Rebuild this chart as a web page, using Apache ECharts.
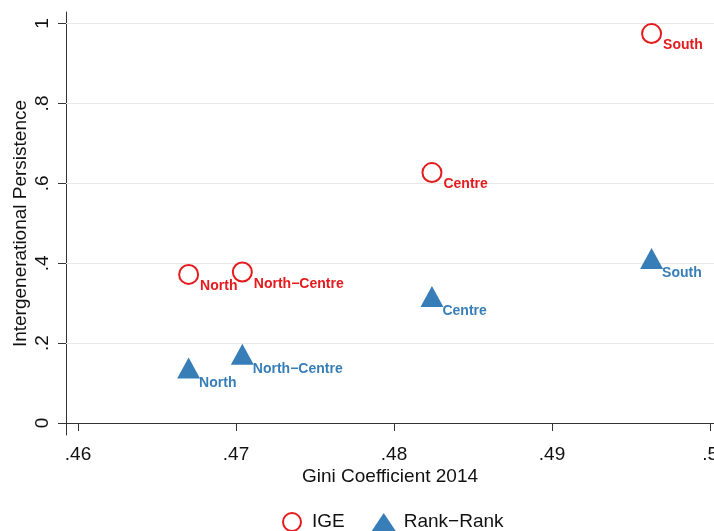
<!DOCTYPE html>
<html>
<head>
<meta charset="utf-8">
<script src="https://cdn.jsdelivr.net/npm/echarts@6/dist/echarts.min.js"></script>
<style>
  html, body { margin: 0; padding: 0; background: #fff; }
  #chart { width: 714px; height: 531px; }
</style>
</head>
<body>
<div id="chart"></div>
<script>
// data
const regions = ['North', 'North\u2212Centre', 'Centre', 'South'];
const gini = [0.4670, 0.4704, 0.4824, 0.4963];
const ige = [0.372, 0.378, 0.627, 0.975];
const rankRank = [0.138, 0.172, 0.317, 0.412];
const xTicks = [0.46, 0.47, 0.48, 0.49, 0.5];
const yTicks = [0, 0.2, 0.4, 0.6, 0.8, 1];
const gridValues = [0.2, 0.4, 0.6, 0.8, 1];

const RED = '#e41a1c';
const BLUE = '#377eb8';
const FONT = '"Liberation Sans", Arial, sans-serif';

// stata style: drop the leading zero
const fmt = v => String(v).replace(/^0\./, '.');

const toPoints = ys => ys.map((y, i) => [gini[i], y, regions[i]]);

const chart = echarts.init(document.getElementById('chart'));

const option = {
    animation: false,
    backgroundColor: '#fff',
    textStyle: { fontFamily: FONT },
    grid: {
        left: 66,
        right: 0,
        top: 12,
        bottom: 96,
        outerBoundsMode: 'none',
        containLabel: false
    },
    legend: {
        left: 277,
        top: 507,
        itemGap: 27,
        itemWidth: 24,
        itemHeight: 18,
        textStyle: { fontSize: 19, color: '#111', fontFamily: FONT, padding: [0, 0, 0, 3] },
        data: [
            { name: 'IGE', icon: 'circle', itemStyle: { color: '#fff', borderColor: RED, borderWidth: 2, opacity: 1 } },
            { name: 'Rank\u2212Rank', icon: 'triangle', itemStyle: { color: BLUE, opacity: 1 } }
        ]
    },
    xAxis: {
        type: 'value',
        min: 0.45924,
        max: 0.50025,
        name: 'Gini Coefficient 2014',
        nameLocation: 'middle',
        nameGap: 32,
        nameMoveOverlap: false,
        nameTextStyle: { fontSize: 19, color: '#111', fontFamily: FONT },
        axisLine: { show: true, lineStyle: { color: '#333', width: 1 } },
        axisTick: { show: true, length: 8, customValues: xTicks, lineStyle: { color: '#333' } },
        axisLabel: {
            customValues: xTicks,
            margin: 10,
            fontSize: 19,
            color: '#111',
            formatter: fmt
        },
        splitLine: { show: false }
    },
    yAxis: {
        type: 'value',
        min: -0.030,
        max: 1.029,
        name: 'Intergenerational Persistence',
        nameLocation: 'middle',
        nameGap: 36,
        nameMoveOverlap: false,
        nameTextStyle: { fontSize: 19, color: '#111', fontFamily: FONT },
        axisLine: { show: true, lineStyle: { color: '#333', width: 1 } },
        axisTick: { show: true, length: 8, customValues: yTicks, lineStyle: { color: '#333' } },
        axisLabel: {
            customValues: yTicks,
            rotate: 90,
            margin: 14,
            fontSize: 19,
            color: '#111',
            formatter: fmt
        },
        splitLine: { show: false }
    },
    series: [
        {
            name: 'IGE',
            type: 'scatter',
            symbol: 'emptyCircle',
            symbolSize: 19,
            itemStyle: { color: RED, borderColor: RED, borderWidth: 2, opacity: 1 },
            data: toPoints(ige),
            label: {
                show: true,
                position: 'right',
                distance: 0,
                offset: [1, 12],
                fontSize: 14,
                fontWeight: 'bold',
                color: RED,
                formatter: p => p.data[2]
            },
            markLine: {
                silent: true,
                z: 1,
                symbol: ['none', 'none'],
                label: { show: false },
                lineStyle: { color: '#e8e8e8', width: 1, type: 'solid' },
                data: gridValues.map(v => ({ yAxis: v }))
            },
            z: 3
        },
        {
            name: 'Rank\u2212Rank',
            type: 'scatter',
            symbol: 'triangle',
            symbolSize: [23, 21],
            itemStyle: { color: BLUE, opacity: 1 },
            data: toPoints(rankRank),
            label: {
                show: true,
                position: 'right',
                distance: -1,
                offset: [0, 15],
                fontSize: 14,
                fontWeight: 'bold',
                color: BLUE,
                formatter: p => p.data[2]
            },
            z: 3
        }
    ]
};

chart.setOption(option);
</script>
</body>
</html>
